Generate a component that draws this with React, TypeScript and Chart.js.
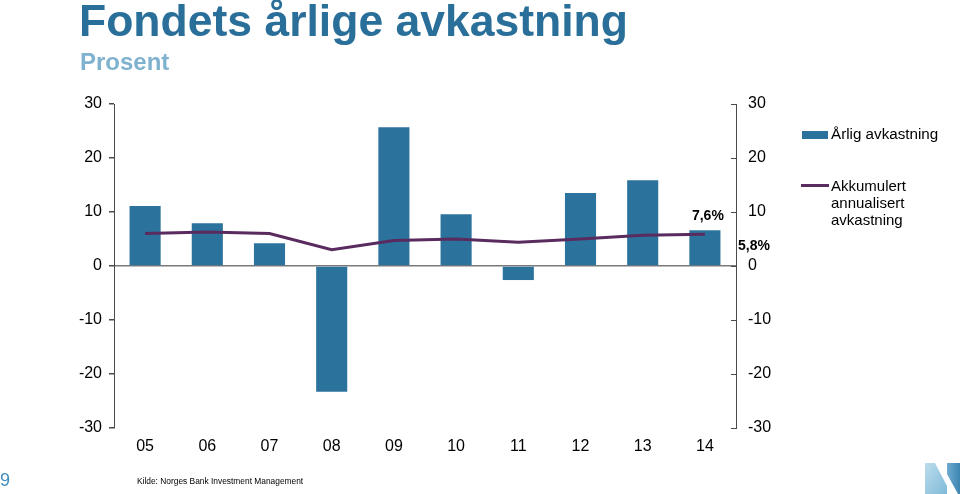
import React, { useEffect, useRef } from 'react';
import { Chart, registerables } from 'chart.js';

Chart.register(...registerables);

const years = ['05', '06', '07', '08', '09', '10', '11', '12', '13', '14'];
const annualReturn = [11.1, 7.9, 4.2, -23.3, 25.7, 9.6, -2.6, 13.5, 15.9, 6.6];
const cumulativeAnnualized = [6.0, 6.3, 6.0, 3.0, 4.7, 5.0, 4.4, 5.0, 5.7, 5.9];
const axisMin = -30;
const axisMax = 30;
const axisStep = 10;
const barLabel = { text: '7,6%', index: 9, value: 9.3 };
const axisLabel = { text: '5,8%', value: 3.7 };

const BAR_COLOR = '#2B729C';
const LINE_COLOR = '#5A2B5E';
const AXIS_COLOR = '#4a4a4a';
const FONT = "'Liberation Sans', Arial, sans-serif";

const overlayPlugin = {
  id: 'overlay',
  afterDraw(chart: any) {
    const ctx = chart.ctx;
    const y2 = chart.scales.y2;
    const x = chart.scales.x;
    ctx.save();
    // inward tick marks on right axis
    ctx.strokeStyle = AXIS_COLOR;
    ctx.lineWidth = 1;
    y2.ticks.forEach((t: any) => {
      const py = Math.round(y2.getPixelForValue(t.value)) + 0.5;
      ctx.beginPath();
      ctx.moveTo(y2.left - 5, py);
      ctx.lineTo(y2.left, py);
      ctx.stroke();
    });
    // value labels
    ctx.fillStyle = '#000';
    ctx.font = `bold 14px ${FONT}`;
    ctx.textBaseline = 'middle';
    ctx.textAlign = 'center';
    ctx.fillText(barLabel.text, x.getPixelForValue(barLabel.index) + 3, y2.getPixelForValue(barLabel.value));
    ctx.textAlign = 'left';
    ctx.fillText(axisLabel.text, y2.left + 2, y2.getPixelForValue(axisLabel.value));
    ctx.restore();
  },
};

export default function App() {
  const canvasRef = useRef<HTMLCanvasElement | null>(null);

  useEffect(() => {
    const canvas = canvasRef.current;
    if (!canvas) return;
    const chart = new Chart(canvas, {
      type: 'bar',
      data: {
        labels: years,
        datasets: [
          {
            type: 'line',
            label: 'Akkumulert annualisert avkastning',
            data: cumulativeAnnualized,
            borderColor: LINE_COLOR,
            backgroundColor: LINE_COLOR,
            borderWidth: 3,
            pointRadius: 0,
            tension: 0,
            order: 0,
            yAxisID: 'y',
          } as any,
          {
            type: 'bar',
            label: 'Årlig avkastning',
            data: annualReturn,
            backgroundColor: BAR_COLOR,
            borderWidth: 0,
            categoryPercentage: 1,
            barPercentage: 0.5,
            order: 1,
            yAxisID: 'y',
          },
        ],
      },
      options: {
        responsive: false,
        animation: false,
        devicePixelRatio: 1,
        layout: { padding: { left: 0, top: 104, right: 164, bottom: 6 } },
        plugins: { legend: { display: false }, tooltip: { enabled: false }, title: { display: false } },
        scales: {
          x: {
            grid: { display: false, drawTicks: false },
            border: { display: false },
            ticks: { padding: 9, color: '#000', font: { family: FONT, size: 16 }, maxRotation: 0 },
            afterFit(scale: any) {
              scale.height = 60;
            },
          },
          y: {
            position: 'left',
            min: axisMin,
            max: axisMax,
            ticks: { stepSize: axisStep, padding: 7, color: '#000', font: { family: FONT, size: 16 } },
            grid: {
              display: true,
              drawOnChartArea: true,
              tickLength: 5,
              tickColor: AXIS_COLOR,
              lineWidth: 1.5,
              color: (c: any) => (c.tick && c.tick.value === 0 ? '#7a7a7a' : 'rgba(0,0,0,0)'),
            },
            border: { display: true, color: AXIS_COLOR, width: 1 },
            afterFit(scale: any) {
              scale.width = 114;
            },
          },
          y2: {
            position: 'right',
            min: axisMin,
            max: axisMax,
            ticks: { stepSize: axisStep, padding: 12, color: '#000', font: { family: FONT, size: 16 } },
            grid: { display: false, drawTicks: false },
            border: { display: true, color: AXIS_COLOR, width: 1 },
            afterFit(scale: any) {
              scale.width = 60;
            },
          },
        },
      } as any,
      plugins: [overlayPlugin],
    });
    return () => chart.destroy();
  }, []);

  const legendText: React.CSSProperties = {
    position: 'absolute',
    fontFamily: FONT,
    fontSize: 15,
    lineHeight: '17px',
    color: '#000',
    whiteSpace: 'nowrap',
  };

  return (
    <div style={{ position: 'fixed', left: 0, top: 0, width: 960, height: 494, background: '#fff', overflow: 'hidden' }}>
      <canvas ref={canvasRef} width={960} height={494} style={{ position: 'absolute', left: 0, top: 0, width: 960, height: 494 }} />
      <div style={{ position: 'absolute', left: 79, top: -1, fontFamily: FONT, fontWeight: 'bold', fontSize: 44.5, lineHeight: '44px', color: '#2A6F99', whiteSpace: 'nowrap' }}>
        Fondets årlige avkastning
      </div>
      <div style={{ position: 'absolute', left: 80, top: 50, fontFamily: FONT, fontWeight: 'bold', fontSize: 24, lineHeight: '24px', color: '#7FB2CE', whiteSpace: 'nowrap' }}>
        Prosent
      </div>
      <div style={{ position: 'absolute', left: 802, top: 131, width: 26, height: 8, background: BAR_COLOR }} />
      <div style={{ ...legendText, left: 831, top: 125, fontSize: 15.2 }}>Årlig avkastning</div>
      <div style={{ position: 'absolute', left: 801, top: 184, width: 28, height: 3, background: LINE_COLOR }} />
      <div style={{ ...legendText, left: 831, top: 177 }}>
        Akkumulert<br />annualisert<br />avkastning
      </div>
      <div style={{ position: 'absolute', left: 0, top: 471, fontFamily: FONT, fontSize: 18, lineHeight: '18px', color: '#3E8DBE' }}>9</div>
      <div style={{ position: 'absolute', left: 137, top: 476, fontFamily: FONT, fontSize: 8.4, lineHeight: '10px', color: '#000', whiteSpace: 'nowrap' }}>
        Kilde: Norges Bank Investment Management
      </div>
      <svg width={36} height={33} style={{ position: 'absolute', left: 925, top: 462 }} viewBox="0 0 36 33">
        <defs>
          <linearGradient id="nl" x1="0" y1="0" x2="1" y2="1">
            <stop offset="0" stopColor="#BCDDEC" />
            <stop offset="1" stopColor="#7FB9D8" />
          </linearGradient>
          <linearGradient id="nr" x1="0" y1="0" x2="1" y2="0">
            <stop offset="0" stopColor="#6FAAD0" />
            <stop offset="1" stopColor="#3C86B2" />
          </linearGradient>
        </defs>
        <polygon points="0,1 10,1 22,24 22,32 0,32" fill="url(#nl)" />
        <polygon points="22,1 35,1 35,32 33,32 22,12" fill="url(#nr)" />
      </svg>
    </div>
  );
}
